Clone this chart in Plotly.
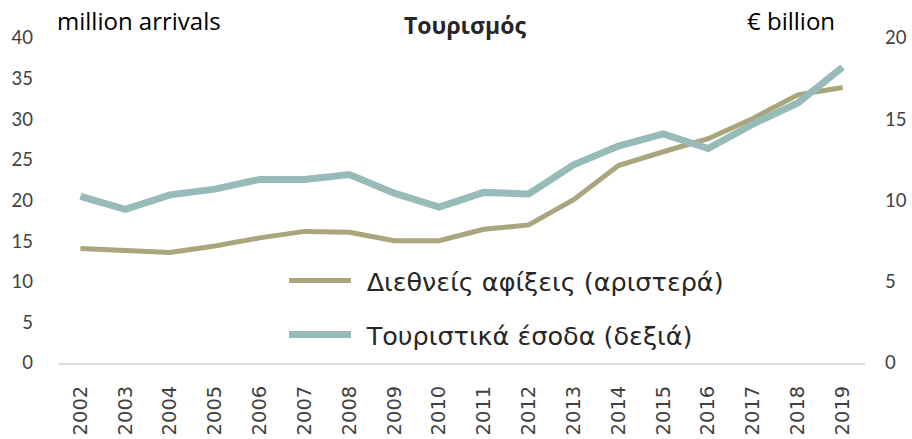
import plotly.graph_objects as go

years = [str(y) for y in range(2002, 2020)]
arrivals = [14.1, 13.9, 13.6, 14.4, 15.4, 16.2, 16.1, 15.05, 15.05, 16.45, 17.0, 20.1, 24.3, 26.0, 27.6, 30.1, 33.0, 33.9]
receipts = [10.25, 9.45, 10.35, 10.7, 11.3, 11.3, 11.6, 10.45, 9.6, 10.5, 10.4, 12.2, 13.35, 14.1, 13.2, 14.7, 16.0, 18.2]
left_ticks = [0, 5, 10, 15, 20, 25, 30, 35, 40]
right_ticks = [0, 5, 10, 15, 20]

name_arr = "Διεθνείς αφίξεις (αριστερά)"
name_rec = "Τουριστικά έσοδα (δεξιά)"
title_text = "Τουρισμός"
left_title = "million arrivals"
right_title = "€ billion"

olive = "#A9A57C"
teal = "#96BBB9"
pad = "\u00a0\u200a"

fig = go.Figure()
fig.add_trace(go.Scatter(x=years, y=arrivals, name=pad + name_arr, mode="lines",
                         line=dict(color=olive, width=5), yaxis="y", legend="legend"))
fig.add_trace(go.Scatter(x=years, y=receipts, name=pad + name_rec, mode="lines",
                         line=dict(color=teal, width=7), yaxis="y2", legend="legend2"))

tickfont = dict(family="Lato, sans-serif", size=18.5, color="#404040")
legfont = dict(family="DejaVu Sans, sans-serif", size=25.5, color="#262626")

L, R, T, B = 58, 47, 38, 76
W, H = 912, 439
plot_h = H - T - B
plot_w = W - L - R
def py(pix):
    return (H - B - pix) / plot_h
def px(pix):
    return (pix - L) / plot_w

fig.update_layout(
    width=W, height=H,
    margin=dict(l=L, r=R, t=T, b=B),
    paper_bgcolor="white", plot_bgcolor="white",
    showlegend=True,
    xaxis=dict(type="category", range=[-0.5, 17.5], tickangle=-90, showgrid=False, zeroline=False,
               showline=True, linecolor="#DEDDD6", linewidth=2, automargin=False,
               ticks="", ticklabelstandoff=13,
               tickfont=dict(family="DejaVu Sans, sans-serif", size=19.5, color="#404040")),
    yaxis=dict(range=[0, 40], tickvals=left_ticks, showgrid=False, zeroline=False,
               showline=False, ticks="", ticklabelstandoff=24, automargin=False,
               tickfont=tickfont),
    yaxis2=dict(range=[0, 20], tickvals=right_ticks, overlaying="y", side="right",
                showgrid=False, zeroline=False, showline=False, automargin=False,
                ticks="", ticklabelstandoff=19, tickfont=tickfont),
    legend=dict(x=px(284), y=py(281), xanchor="left", yanchor="middle", itemwidth=62,
                font=legfont, bgcolor="rgba(0,0,0,0)"),
    legend2=dict(x=px(284), y=py(335), xanchor="left", yanchor="middle", itemwidth=62,
                 font=legfont, bgcolor="rgba(0,0,0,0)"),
    annotations=[
        dict(text="<b>" + title_text + "</b>", x=px(465), y=py(25), xref="paper", yref="paper",
             xanchor="center", yanchor="middle", showarrow=False,
             font=dict(family="Open Sans, sans-serif", size=23, color="#262626")),
        dict(text=left_title, xref="paper", yref="paper", x=px(55), y=py(21),
             xanchor="left", yanchor="middle", showarrow=False,
             font=dict(family="Open Sans, sans-serif", size=24, color="#000000")),
        dict(text=right_title, xref="paper", yref="paper", x=px(837), y=py(21),
             xanchor="right", yanchor="middle", showarrow=False,
             font=dict(family="Open Sans, sans-serif", size=24, color="#000000")),
    ],
)

fig.write_html("out.html", config={"displayModeBar": False},
               post_script="document.body.style.margin='0';")
